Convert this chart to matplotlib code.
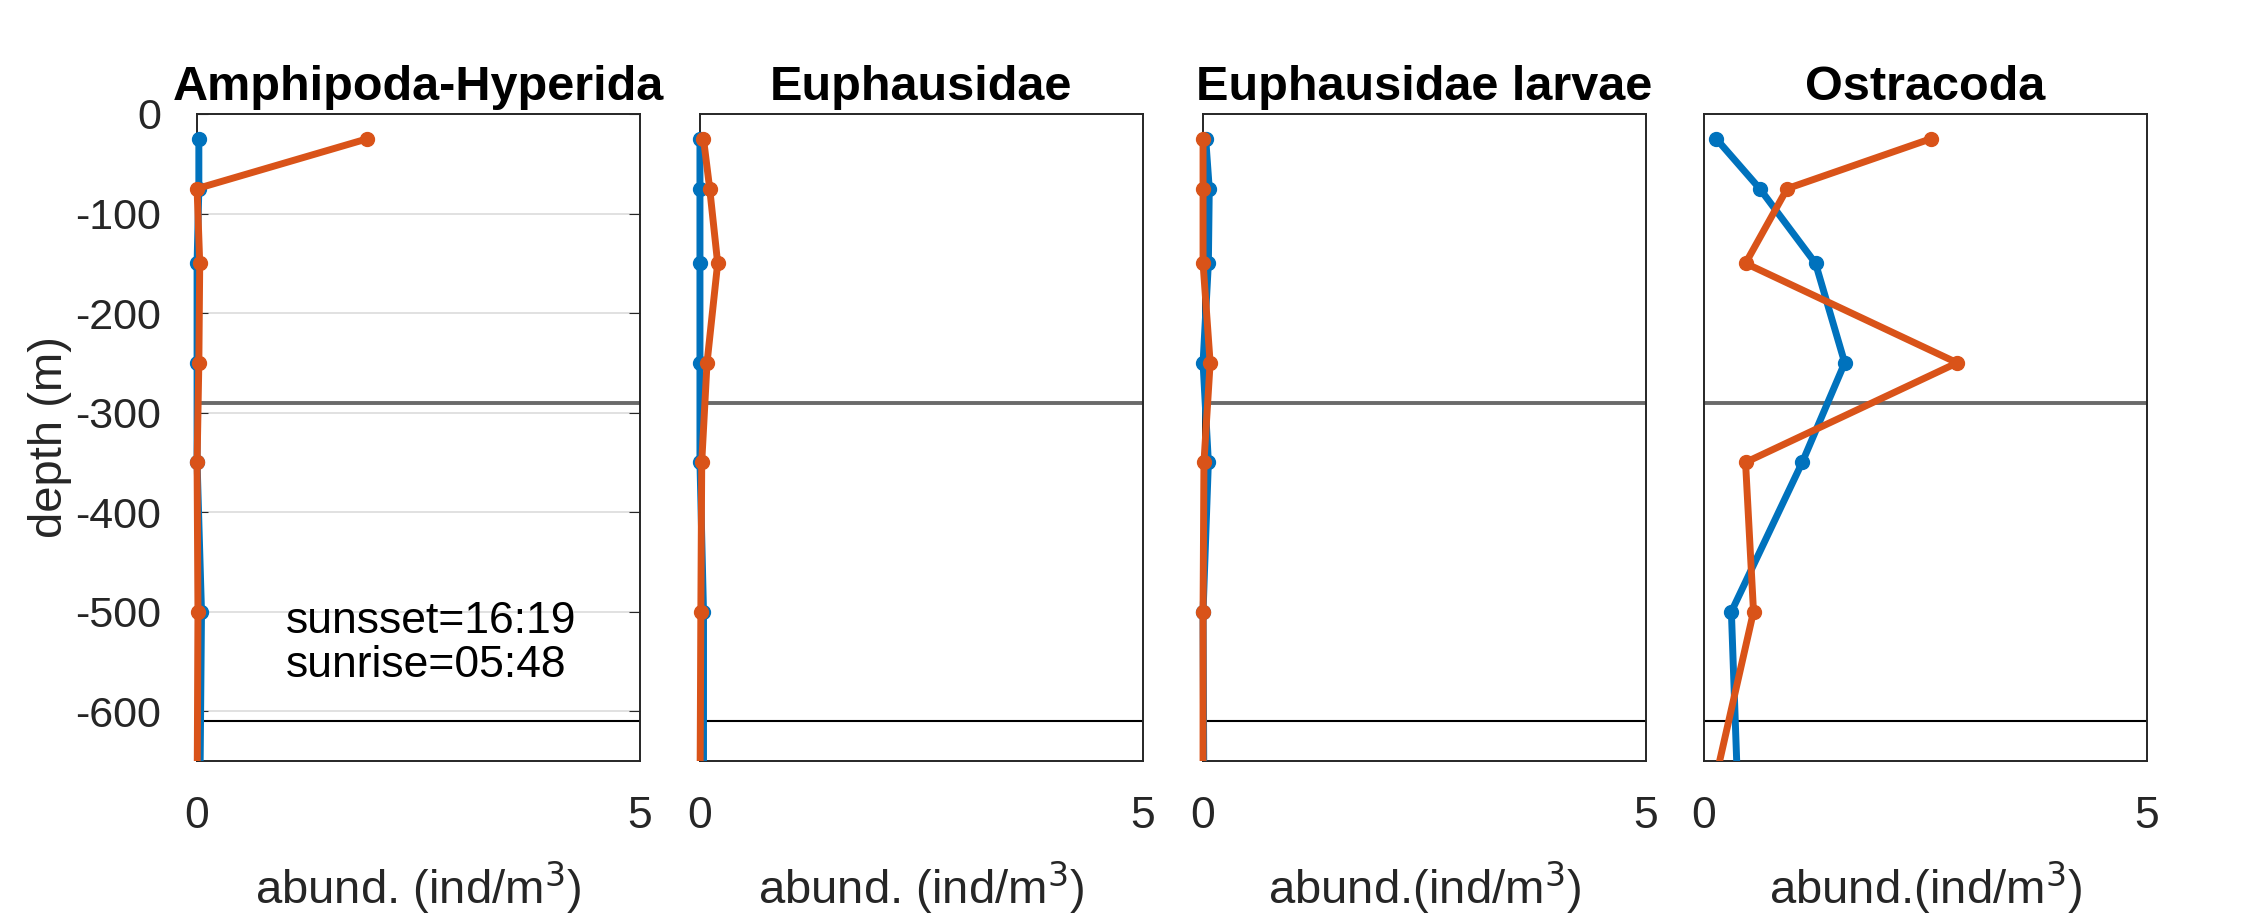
import matplotlib
matplotlib.use("Agg")
import matplotlib.pyplot as plt
from matplotlib.patches import Rectangle

plt.rcParams["font.family"] = ["Liberation Sans", "DejaVu Sans"]
plt.rcParams["axes.unicode_minus"] = False

# Daten
tiefe = [-25, -75, -150, -250, -350, -500, -700]

titel = ["Amphipoda-Hyperida", "Euphausidae", "Euphausidae larvae", "Ostracoda"]
xlabels = ["abund. (ind/m$^3$)", "abund. (ind/m$^3$)",
           "abund.(ind/m$^3$)", "abund.(ind/m$^3$)"]

amph_blau = [0.02, 0.02, 0.0, 0.0, 0.0, 0.05, 0.03]
amph_orange = [1.92, 0.0, 0.03, 0.02, 0.0, 0.01, 0.0]
euph_blau = [0.0, 0.0, 0.0, 0.0, 0.0, 0.04, 0.04]
euph_orange = [0.04, 0.11, 0.2, 0.08, 0.02, 0.01, 0.0]
larv_blau = [0.03, 0.07, 0.06, 0.0, 0.06, 0.0, 0.01]
larv_orange = [0.0, 0.0, 0.0, 0.08, 0.01, 0.0, 0.0]
ostr_blau = [0.14, 0.63, 1.26, 1.59, 1.11, 0.31, 0.39]
ostr_orange = [2.56, 0.94, 0.47, 2.86, 0.47, 0.56, 0.05]

blau_serien = [amph_blau, euph_blau, larv_blau, ostr_blau]
orange_serien = [amph_orange, euph_orange, larv_orange, ostr_orange]

y_ticks = [0, -100, -200, -300, -400, -500, -600]
linie_grau = -290
linie_schwarz = -610

BLAU = "#0072BD"
ORANGE = "#D95319"

fig = plt.figure(figsize=(22.42, 9.22), dpi=100)

lefts = [0.0879, 0.3122, 0.5366, 0.760]
for i in range(4):
    ax = fig.add_axes([lefts[i], 0.1746, 0.1975, 0.7018])
    clip = Rectangle((-0.05, 0), 1.1, 1, transform=ax.transAxes)

    for serie, farbe in [(blau_serien[i], BLAU), (orange_serien[i], ORANGE)]:
        l, = ax.plot(serie, tiefe, "-o", color=farbe, lw=5, ms=10,
                     zorder=3)
        l.set_clip_path(clip)

    ax.axhline(linie_grau, color="#6a6a6a", lw=2.8, zorder=2)
    ax.axhline(linie_schwarz, color="black", lw=1.5, zorder=2)

    ax.set_xlim(0, 5)
    ax.set_ylim(-650, 0)
    ax.set_xticks([0, 5])
    ax.tick_params(axis="x", direction="in", length=0, pad=25, labelsize=32,
                   colors="#262626")
    ax.set_xlabel(xlabels[i], fontsize=34, color="#262626", labelpad=16)
    ax.set_title(titel[i], fontsize=35, fontweight="bold", pad=10)

    for s in ax.spines.values():
        s.set_color("#262626")
        s.set_linewidth(1.4)

    if i == 0:
        ax.set_yticks(y_ticks)
        ax.grid(axis="y", color="#dcdcdc", lw=1.2)
        ax.tick_params(axis="y", direction="in", length=8, right=True,
                       pad=26, labelsize=31, colors="#262626")
        ax.set_ylabel("depth (m)", fontsize=34, color="#262626", labelpad=2)
        ax.text(1.0, -532, "sunsset=16:19\nsunrise=05:48", fontsize=32,
                va="center", ha="left", linespacing=1.1)
    else:
        ax.set_yticks([])

fig.savefig("out.png", dpi=100)
